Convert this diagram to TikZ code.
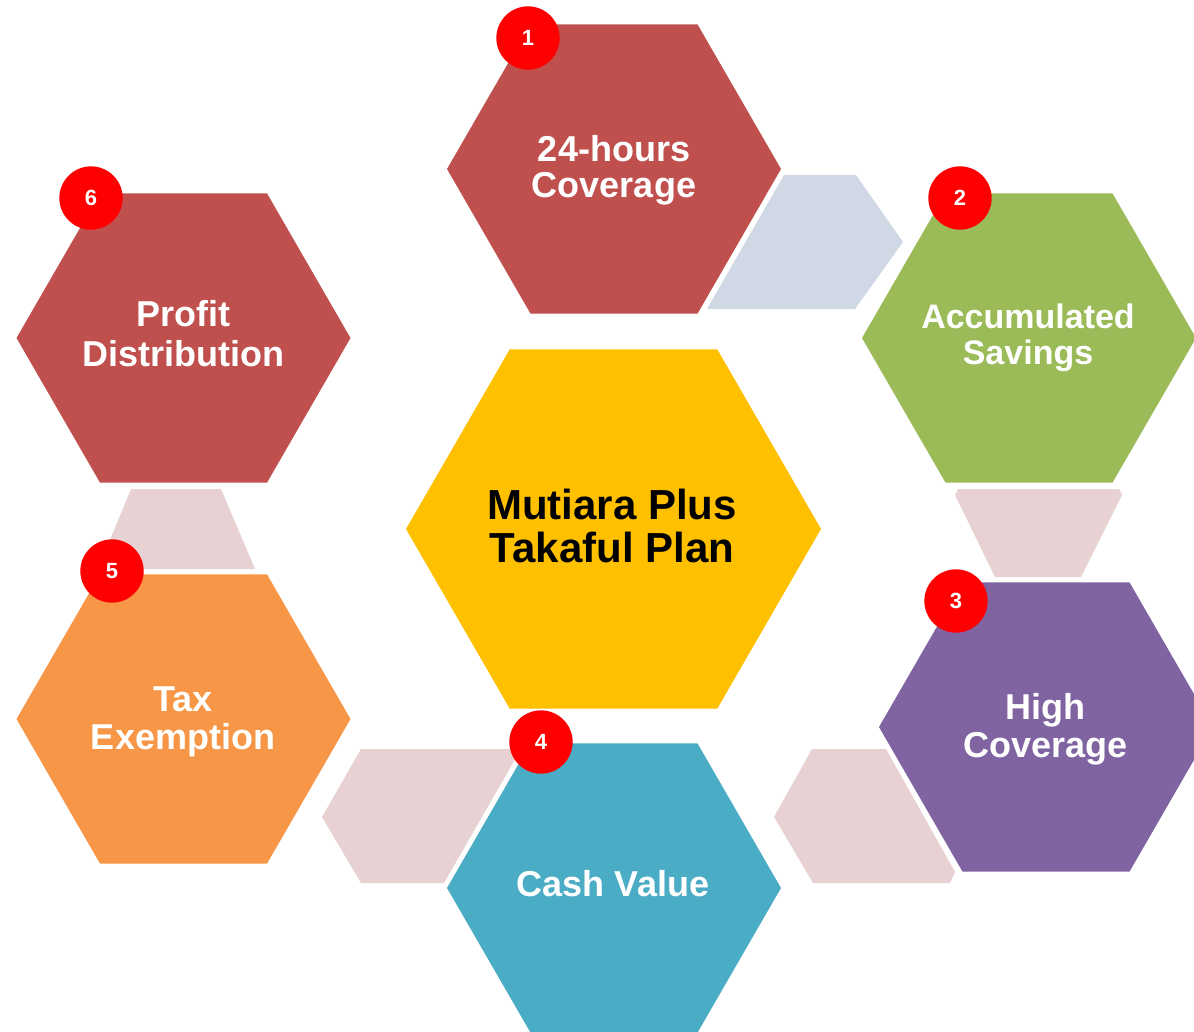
\documentclass[tikz,border=0pt]{standalone}
\usepackage{fontspec}
\setmainfont{Liberation Sans}
\usetikzlibrary{shapes.geometric}

\definecolor{hexred}{HTML}{C0504D}
\definecolor{hexgreen}{HTML}{9BBB59}
\definecolor{hexpurple}{HTML}{8064A2}
\definecolor{hexteal}{HTML}{4BACC6}
\definecolor{hexorange}{HTML}{F79646}
\definecolor{hexyellow}{HTML}{FFC000}
\definecolor{linkblue}{HTML}{D0D8E6}
\definecolor{linkpink}{HTML}{E7D1D2}
\definecolor{badgered}{HTML}{FF0000}

\tikzset{
  hexa/.style={regular polygon, regular polygon sides=6, draw=none,
    inner sep=0pt, outer sep=0pt, minimum size=250.5pt},
  bighexa/.style={hexa, minimum size=311.25pt},
  hexlabel/.style={align=center, inner sep=0pt, text=white,
    font=\fontsize{27pt}{28.5pt}\selectfont\bfseries},
  badge/.style={circle, fill=badgered, draw=none, inner sep=0pt,
    minimum size=47.5pt, text=white,
    font=\fontsize{16.5pt}{18pt}\selectfont\bfseries},
  link/.style={draw=none}
}

\begin{document}
\begin{tikzpicture}[x=0.75pt, y=-0.75pt]
  \useasboundingbox (0,0) rectangle (1194,1031);
  \fill[white] (0,0) rectangle (1194,1031);
  \clip (0,0) rectangle (1194,1031);

  % light linking pieces between neighbouring hexagons
  \fill[link, linkblue] (784,175) -- (856,175) -- (903,242) -- (855,309) -- (707,309) -- cycle;
  \fill[link, linkpink] (955,495) -- (958,489) -- (1119,489) -- (1122,495) -- (1081,577) -- (995,577) -- cycle;
  \fill[link, linkpink] (812,749) -- (886,749) -- (955,872) -- (950,883) -- (813,883) -- (774,817) -- cycle;
  \fill[link, linkpink] (361,749) -- (521,749) -- (444,883) -- (361,883) -- (322,817) -- cycle;
  \fill[link, linkpink] (131,489) -- (221,489) -- (255,569) -- (98,569) -- cycle;

  % hexagons
  \node[bighexa, fill=hexyellow] (hc) at (613.5,529) {};
  \node[hexa, fill=hexred]    (h1) at (614,169) {};
  \node[hexa, fill=hexgreen]  (h2) at (1029,338) {};
  \node[hexa, fill=hexpurple] (h3) at (1046,727) {};
  \node[hexa, fill=hexteal]   (h4) at (614,888) {};
  \node[hexa, fill=hexorange] (h5) at (183.5,719) {};
  \node[hexa, fill=hexred]    (h6) at (183.5,338) {};

  % labels
  \node[hexlabel, text=black, font=\fontsize{31.5pt}{32pt}\selectfont\bfseries]
    (tc) at (612,526.2) {Mutiara Plus\\Takaful Plan};
  \node[hexlabel, font=\fontsize{27pt}{26.7pt}\selectfont\bfseries]
    (t1) at (614,170.1) {24-hours\\Coverage};
  \node[hexlabel, font=\fontsize{25.5pt}{27.5pt}\selectfont\bfseries]
    (t2) at (1028,337.9) {Accumulated\\Savings};
  \node[hexlabel, font=\fontsize{27pt}{28.5pt}\selectfont\bfseries]
    (t3) at (1045.5,729) {High\\Coverage};
  \node[hexlabel] (t4) at (613,883.5) {Cash Value};
  \node[hexlabel, font=\fontsize{27pt}{28.7pt}\selectfont\bfseries]
    (t5) at (183,721.7) {Tax\\Exemption};
  \node[hexlabel, font=\fontsize{27pt}{29.5pt}\selectfont\bfseries]
    (t6) at (183.5,333.5) {Profit\\Distribution};

  % numbered badges
  \node[badge] (b1) at (528,38) {1};
  \node[badge] (b2) at (960,198) {2};
  \node[badge] (b3) at (956,601) {3};
  \node[badge] (b4) at (541,742) {4};
  \node[badge] (b5) at (112,571) {5};
  \node[badge] (b6) at (91,198) {6};
\end{tikzpicture}
\end{document}
